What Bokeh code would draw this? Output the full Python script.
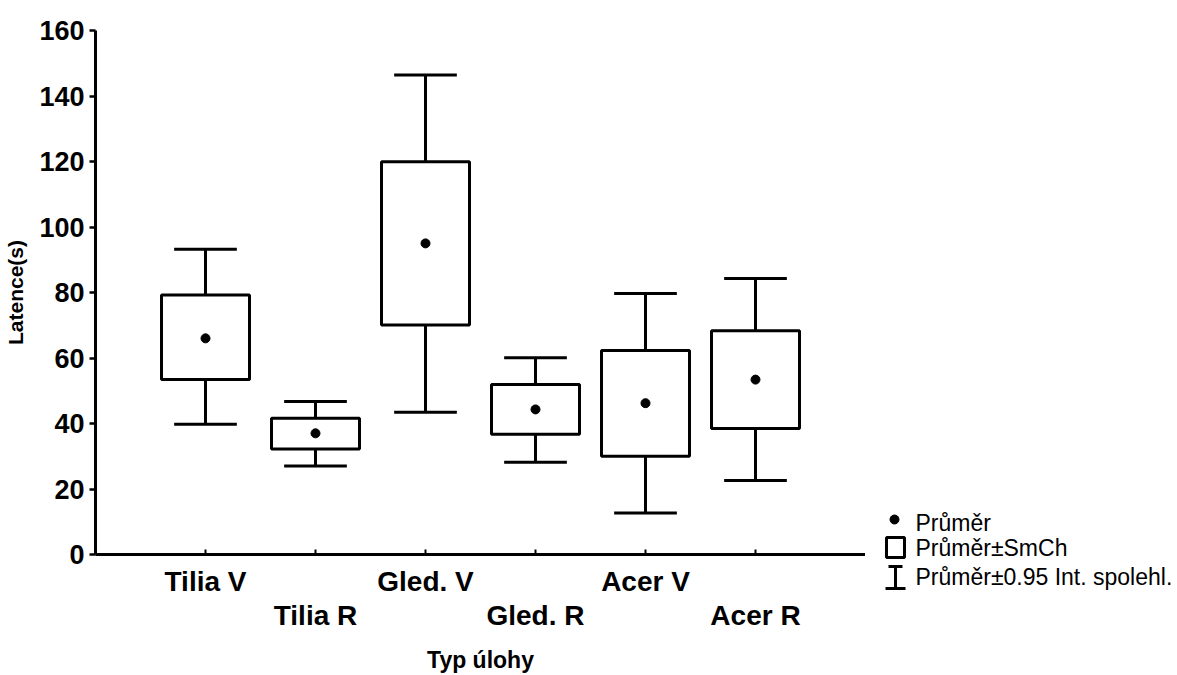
from bokeh.plotting import figure
from bokeh.models import Range1d, FixedTicker, LinearAxis
from bokeh.layouts import row
from bokeh.embed import file_html
from bokeh.resources import INLINE
from bokeh.core.properties import value

categories = ["Tilia V", "Tilia R", "Gled. V", "Gled. R", "Acer V", "Acer R"]
mean = [66.0, 37.0, 95.0, 44.3, 46.2, 53.4]
se_low = [53.4, 32.2, 70.1, 36.7, 30.0, 38.5]
se_high = [79.2, 41.6, 119.9, 51.9, 62.3, 68.3]
ci_low = [39.8, 27.0, 43.4, 28.2, 12.7, 22.6]
ci_high = [93.2, 46.7, 146.4, 60.1, 79.7, 84.3]
y_ticks = [0, 20, 40, 60, 80, 100, 120, 140, 160]
legend_labels = ["Průměr", "Průměr±SmCh", "Průměr±0.95 Int. spolehl."]

FONT = "Liberation Sans"
xs = list(range(1, len(categories) + 1))
BOX_HALF = 0.4
CAP_HALF = 0.285
LW = 3

p = figure(width=865, height=675, x_range=Range1d(0, 7), y_range=Range1d(0, 160),
           output_backend="svg", toolbar_location=None,
           x_axis_location=None, y_axis_location=None,
           min_border_left=95, min_border_right=0, min_border_top=30, min_border_bottom=121)
p.outline_line_color = None
p.xgrid.visible = False
p.ygrid.visible = False
p.background_fill_color = "white"

# y axis
yax = LinearAxis(ticker=FixedTicker(ticks=y_ticks), axis_label="Latence(s)")
yax.axis_line_width = LW
yax.major_tick_line_width = 2.5
yax.major_tick_out = 6
yax.major_tick_in = 0
yax.minor_tick_line_color = None
yax.major_label_standoff = 5
yax.major_label_text_font = FONT
yax.major_label_text_font_style = "bold"
yax.major_label_text_font_size = "27px"
yax.major_label_text_color = "black"
yax.axis_label_text_font = FONT
yax.axis_label_text_font_style = "bold"
yax.axis_label_text_font_size = "21px"
yax.axis_label_text_color = "black"
yax.axis_label_standoff = 9
p.add_layout(yax, "left")

# x axis, first row of labels (odd categories)
odd = {i: (c if i % 2 == 1 else "") for i, c in zip(xs, categories)}
even = {i: (c if i % 2 == 0 else "") for i, c in zip(xs, categories)}
xax1 = LinearAxis(ticker=FixedTicker(ticks=xs), major_label_overrides=odd)
xax1.axis_line_width = LW
xax1.major_tick_line_width = 2
xax1.major_tick_in = 5
xax1.major_tick_out = 0
xax1.minor_tick_line_color = None
xax1.major_label_standoff = 11
xax1.major_label_text_font = FONT
xax1.major_label_text_font_style = "bold"
xax1.major_label_text_font_size = "28px"
xax1.major_label_text_color = "black"
p.add_layout(xax1, "below")

xax2 = LinearAxis(ticker=FixedTicker(ticks=xs), major_label_overrides=even, axis_label="Typ úlohy")
xax2.axis_line_color = None
xax2.major_tick_line_color = None
xax2.minor_tick_line_color = None
xax2.major_tick_in = 0
xax2.major_tick_out = 0
xax2.major_label_standoff = 0
xax2.major_label_text_font = FONT
xax2.major_label_text_font_style = "bold"
xax2.major_label_text_font_size = "28px"
xax2.major_label_text_color = "black"
xax2.axis_label_text_font = FONT
xax2.axis_label_text_font_style = "bold"
xax2.axis_label_text_font_size = "23px"
xax2.axis_label_text_color = "black"
xax2.axis_label_standoff = 13
p.add_layout(xax2, "below")

# whiskers (confidence interval)
p.segment(x0=xs, y0=se_high, x1=xs, y1=ci_high, line_color="black", line_width=LW)
p.segment(x0=xs, y0=se_low, x1=xs, y1=ci_low, line_color="black", line_width=LW)
p.segment(x0=[x - CAP_HALF for x in xs], y0=ci_high, x1=[x + CAP_HALF for x in xs], y1=ci_high,
          line_color="black", line_width=LW)
p.segment(x0=[x - CAP_HALF for x in xs], y0=ci_low, x1=[x + CAP_HALF for x in xs], y1=ci_low,
          line_color="black", line_width=LW)
# boxes (mean ± SE)
p.quad(left=[x - BOX_HALF for x in xs], right=[x + BOX_HALF for x in xs], top=se_high, bottom=se_low,
       fill_color="white", line_color="black", line_width=LW)
# means
p.scatter(x=xs, y=mean, size=9, marker="circle", fill_color="black", line_color="black")

# legend panel
q = figure(width=312, height=675, x_range=Range1d(0, 312), y_range=Range1d(675, 0),
           output_backend="svg", toolbar_location=None,
           x_axis_location=None, y_axis_location=None,
           min_border_left=0, min_border_right=0, min_border_top=0, min_border_bottom=0)
q.frame_align = False
q.outline_line_color = None
q.xgrid.visible = False
q.ygrid.visible = False

lx = 30
ly = [522, 547, 576]
q.scatter(x=[lx - 1], y=[ly[0] - 3], size=9, marker="circle", fill_color="black", line_color="black")
q.quad(left=[lx - 9], right=[lx + 9], top=[ly[1] - 10], bottom=[ly[1] + 10],
       fill_color="white", line_color="black", line_width=LW)
q.segment(x0=[lx, lx - 7, lx - 10], y0=[ly[2] - 10, ly[2] - 10, ly[2] + 12],
          x1=[lx, lx + 7, lx + 10], y1=[ly[2] + 12, ly[2] - 10, ly[2] + 12],
          line_color="black", line_width=LW)
q.text(x=[50, 50, 50], y=ly, text=legend_labels, text_font=value(FONT), text_font_size="23px",
       text_baseline="middle", text_align="left", text_color="black")

layout = row(p, q, spacing=0)
open("out.html", "w").write(file_html(layout, INLINE))
